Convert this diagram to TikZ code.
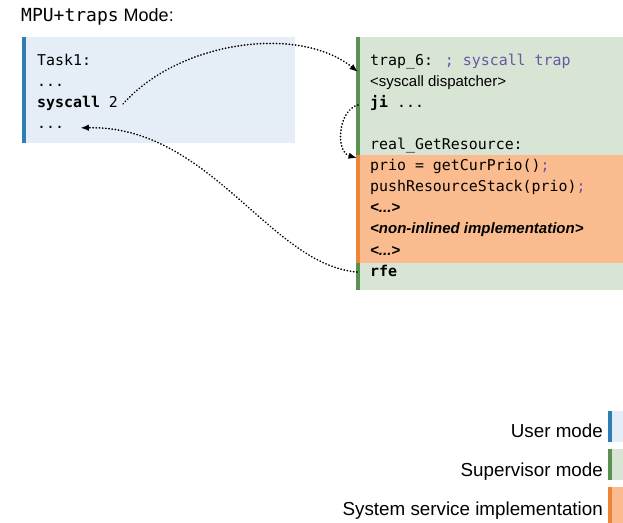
\documentclass[tikz,border=0pt]{standalone}
\usepackage{fontspec}
\setmainfont{Liberation Sans}
\newfontfamily\codefont{DejaVu Sans Mono}
\usetikzlibrary{arrows.meta}
\definecolor{userbg}{HTML}{E5EEF7}
\definecolor{userbar}{HTML}{2F7EB3}
\definecolor{supbg}{HTML}{D9E5D4}
\definecolor{supbar}{HTML}{5A9150}
\definecolor{implbg}{HTML}{FABC8E}
\definecolor{implbar}{HTML}{EE8436}
\definecolor{cmt}{HTML}{6656A8}
\begin{document}
\begin{tikzpicture}[x=1bp,y=-1bp,
  code/.style={anchor=base west, inner sep=0pt, font=\codefont\fontsize{14.9bp}{21bp}\selectfont},
  note/.style={anchor=base west, inner sep=0pt, font=\fontsize{15bp}{21bp}\selectfont},
  stub/.style={note, font=\fontsize{15bp}{21bp}\selectfont\bfseries\itshape},
  legendtext/.style={anchor=base east, inner sep=0pt, font=\fontsize{18.8bp}{22bp}\selectfont},
  flow/.style={line width=1.7bp, line cap=round, dash pattern=on 0.3bp off 2.9bp, -{Latex[length=8.5bp,width=6.5bp]}},
]
\useasboundingbox (0,0) rectangle (623,523);

% heading
\node[anchor=base west, inner sep=0pt, font=\fontsize{18bp}{22bp}\selectfont] (title) at (21,22) {{\codefont MPU+traps} Mode:};

% user-mode task
\fill[userbg] (22,37) rectangle (295,143);
\fill[userbar] (22,37) rectangle (26,143);
\node[code] (task) at (37,66) {Task1:};
\node[code] (dotsA) at (37,87) {...};
\node[code] (sys) at (37,108) {\textbf{syscall} 2};
\node[code] (dotsB) at (37,129) {...};

% supervisor-mode trap handler
\fill[supbg] (356,37) rectangle (623,290);
\fill[supbar] (356,37) rectangle (360,290);
\fill[implbg] (356,155) rectangle (623,263);
\fill[implbar] (356,155) rectangle (360,263);
\node[code] (trap) at (370,66) {trap\_6: \textcolor{cmt}{; syscall trap}};
\node[note] (disp) at (370,87) {<syscall dispatcher>};
\node[code] (ji) at (370,108) {\textbf{ji} ...};
\node[code] (real) at (370,150) {real\_GetResource:};
\node[code] (prio) at (370,171) {prio = getCurPrio()\textcolor{cmt}{;}};
\node[code] (push) at (370,192) {pushResourceStack(prio)\textcolor{cmt}{;}};
\node[stub] (gapA) at (370,213) {<...>};
\node[stub] (impl) at (370,234) {<non-inlined implementation>};
\node[stub] (gapB) at (370,255) {<...>};
\node[code] (rfe) at (370,276) {\textbf{rfe}};

% control-flow connectors
\coordinate (trapin) at (358,72);
\coordinate (jiout) at (358,105);
\coordinate (implin) at (357,158);
\coordinate (rfeout) at (357,272);
\draw[flow] ([xshift=5bp]sys.east) .. controls (180,40) and (300,25) .. (trapin);
\draw[flow] (jiout) .. controls (338,110) and (335,152) .. (implin);
\draw[flow] (rfeout) .. controls (270,265) and (210,125) .. ([xshift=16bp]dotsB.east);

% legend
\fill[userbg] (608,411) rectangle (623,442);
\fill[userbar] (608,411) rectangle (612,442);
\fill[supbg] (608,449) rectangle (623,480);
\fill[supbar] (608,449) rectangle (612,480);
\fill[implbg] (608,487) rectangle (623,523);
\fill[implbar] (608,487) rectangle (612,523);
\node[legendtext] (lguser) at (603,437) {User mode};
\node[legendtext] (lgsup) at (603,476) {Supervisor mode};
\node[legendtext] (lgimpl) at (603,515) {System service implementation};
\end{tikzpicture}
\end{document}
